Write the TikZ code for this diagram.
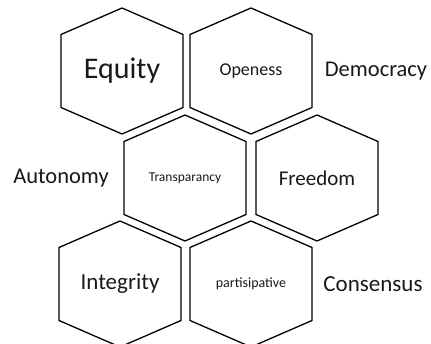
\documentclass[tikz,border=0pt]{standalone}
\usepackage{fontspec}
\setmainfont{Carlito}
\usepackage{tikz}
\begin{document}
\begin{tikzpicture}[x=1pt,y=-1pt]
    \tikzstyle{hexline}=[line width=1.3pt, black, line join=miter]
    \tikzstyle{word}=[inner sep=0pt, text=black!90]
\useasboundingbox (0,0) rectangle (431,344);

% words inside the cells
\node[word, font=\fontsize{30}{34}\selectfont] (equity) at (122,71) {Equity};
\node[word, font=\fontsize{18}{22}\selectfont] (openess) at (251,71) {Openess};
\node[word, font=\fontsize{13.5}{16}\selectfont] (transparancy) at (185,178) {Transparancy};
\node[word, font=\fontsize{21}{25}\selectfont] (freedom) at (317,178) {Freedom};
\node[word, font=\fontsize{23}{27}\selectfont] (integrity) at (120,284) {Integrity};
\node[word, font=\fontsize{14}{17}\selectfont] (partisipative) at (251,284) {partisipative};

% words outside
\node[word, font=\fontsize{22.5}{27}\selectfont] (democracy) at (376,71) {Democracy};
\node[word, font=\fontsize{22.5}{27}\selectfont] (autonomy) at (61,178) {Autonomy};
\node[word, font=\fontsize{23}{27}\selectfont] (consensus) at (373,284) {Consensus};

% cells
\foreach \n in {equity,openess,transparancy,freedom,integrity,partisipative}
    \draw[hexline] (\n) ++(0,-63) -- ++(61,26.5) -- ++(0,73) -- ++(-61,26.5)
        -- ++(-61,-26.5) -- ++(0,-73) -- cycle;
\end{tikzpicture}
\end{document}
